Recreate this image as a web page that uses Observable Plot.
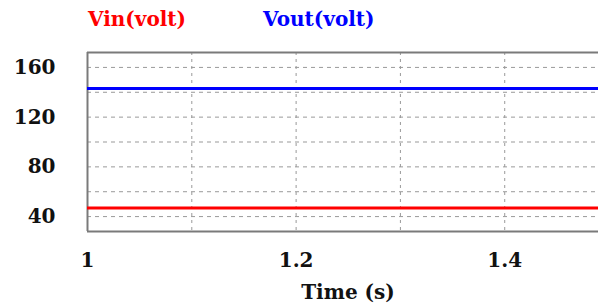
<!DOCTYPE html>
<html>
<head>
<meta charset="utf-8">
<script src="https://cdn.jsdelivr.net/npm/d3@7"></script>
<script src="https://cdn.jsdelivr.net/npm/@observablehq/plot@0.6"></script>
<style>
  html, body { margin: 0; padding: 0; background: #fff; overflow: hidden; }
  #wrap { position: relative; width: 598px; height: 305px; overflow: hidden; }
  #wrap svg { max-width: none; }
  .legend { position: absolute; top: 7px; font-family: "DejaVu Serif", serif; font-weight: bold; font-size: 20px; line-height: 24px; }
</style>
</head>
<body>
<div id="wrap">
  <div class="legend" id="l0" style="left:88px; color:#ff0000;"></div>
  <div class="legend" id="l1" style="left:263px; color:#0000ff;"></div>
</div>
<script>
const seriesNames = ["Vin(volt)", "Vout(volt)"];
const seriesColors = ["#ff0000", "#0000ff"];
const time = [1.0, 1.6];
const vin = [47, 47];
const vout = [143, 143];
const xDomain = [1, 1.511];
const yDomain = [28, 172];
const xTickLabels = [1, 1.2, 1.4];
const xGrid = [1.1, 1.2, 1.3, 1.4, 1.5];
const yTickLabels = [40, 80, 120, 160];
const yGrid = [40, 60, 80, 100, 120, 140, 160];

document.getElementById("l0").textContent = seriesNames[0];
document.getElementById("l1").textContent = seriesNames[1];

const data = [];
time.forEach((t, i) => {
  data.push({t, v: vin[i], s: seriesNames[0]});
  data.push({t, v: vout[i], s: seriesNames[1]});
});

const chart = Plot.plot({
  width: 620,
  height: 305,
  marginTop: 52,
  marginBottom: 74,
  marginLeft: 87,
  marginRight: 0,
  style: { fontFamily: "DejaVu Serif", fontWeight: "bold", fontSize: "20px", color: "#111", background: "#fff", maxWidth: "none" },
  x: { domain: xDomain },
  y: { domain: yDomain },
  color: { domain: seriesNames, range: seriesColors },
  marks: [
    Plot.gridX(xGrid, { stroke: "#999", strokeOpacity: 1, strokeDasharray: "3,4", strokeWidth: 1 }),
    Plot.gridY(yGrid, { stroke: "#999", strokeOpacity: 1, strokeDasharray: "4,4", strokeWidth: 1 }),
    Plot.ruleX([xDomain[0]], { stroke: "#7a7a7a", strokeWidth: 2 }),
    Plot.ruleY(yDomain, { stroke: "#7a7a7a", strokeWidth: 2 }),
    Plot.line(data, { x: "t", y: "v", z: "s", stroke: "s", strokeWidth: 3, clip: true }),
    Plot.axisX(xTickLabels, { tickSize: 0, tickPadding: 21, tickFormat: d => String(d), label: null }),
    Plot.axisY(yTickLabels, { tickSize: 0, tickPadding: 32, label: null })
  ]
});
chart.style.width = "620px";
document.getElementById("wrap").prepend(chart);
const xl = document.createElement("div");
xl.textContent = "Time (s)";
xl.style.cssText = "position:absolute;left:0;width:696px;top:280px;text-align:center;font-family:'DejaVu Serif',serif;font-weight:bold;font-size:20px;line-height:24px;color:#111;";
document.getElementById("wrap").append(xl);
</script>
</body>
</html>
